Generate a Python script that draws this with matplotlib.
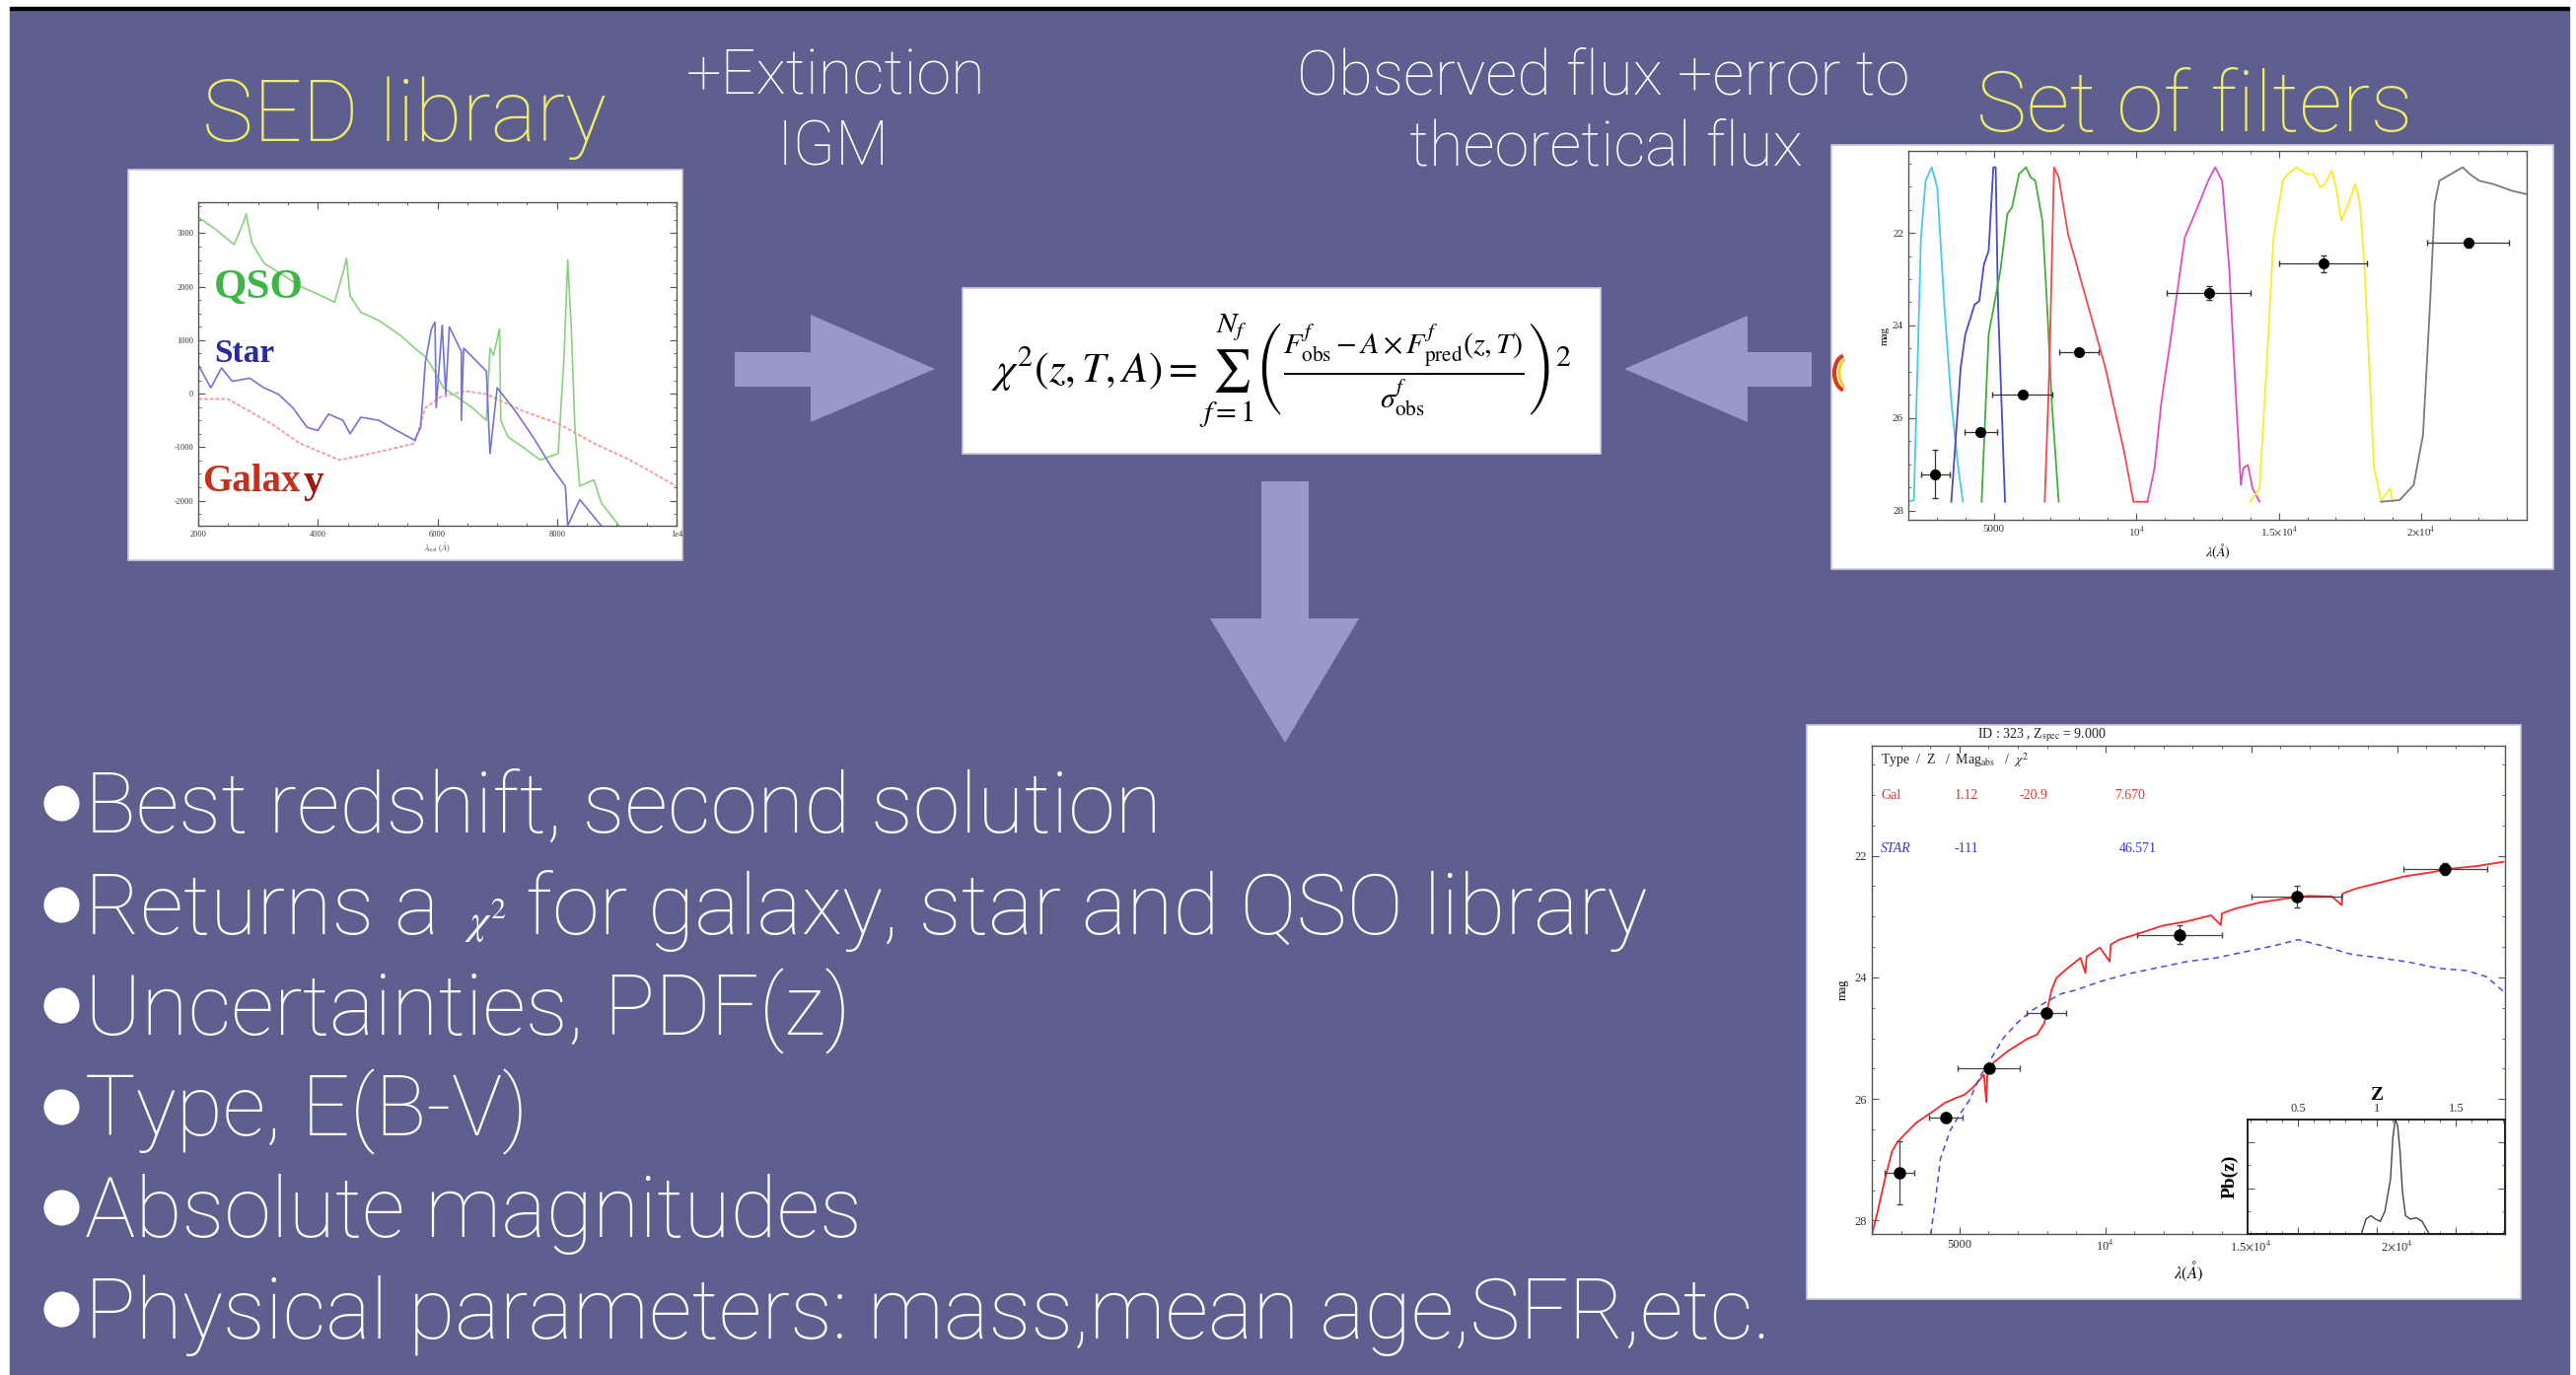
from __future__ import annotations

import matplotlib

matplotlib.use("Agg")
import matplotlib.pyplot as plt
from matplotlib.patches import Arc, Polygon, Rectangle
from matplotlib.ticker import FixedLocator, MultipleLocator, NullFormatter

W, H, DPI = 2612, 1394, 100

BG = "#5e5f8e"
ARROW = "#9898c9"
YELLOW = "#f0ec6c"
SANS = ["Roboto", "DejaVu Sans"]

plt.rcParams["font.family"] = "serif"
plt.rcParams["font.serif"] = ["Liberation Serif", "DejaVu Serif"]
plt.rcParams["mathtext.fontset"] = "stix"

# ---- SED library: template spectra (arbitrary flux units) ----
qso_x = [0, 0.135, 0.30, 0.375, 0.40, 0.45, 0.55, 0.70, 0.85, 1.00,
         1.14, 1.21, 1.24, 1.27, 1.36, 1.51, 1.69, 1.81, 1.90, 1.96,
         2.05, 2.17, 2.29, 2.41, 2.44, 2.47, 2.52, 2.53, 2.59, 2.71,
         2.86, 3.01, 3.06, 3.09, 3.12, 3.15, 3.19, 3.31, 3.37, 3.52]
qso_y = [3.30, 3.09, 2.79, 3.18, 3.36, 2.81, 2.44, 2.23, 2.01, 1.86,
         1.71, 2.26, 2.53, 1.83, 1.52, 1.37, 1.09, 0.85, 0.69, 0.48,
         0.11, -0.07, -0.26, -0.50, 0.85, 0.72, 1.21, -0.50, -0.81, -0.99,
         -1.24, -1.12, 0.72, 2.50, 1.21, -0.63, -1.73, -1.61, -2.04, -2.47]
star_x = [0, 0.105, 0.195, 0.285, 0.43, 0.55, 0.67, 0.79, 0.91, 1.00,
          1.09, 1.21, 1.27, 1.36, 1.51, 1.66, 1.81, 1.86, 1.90, 1.95,
          1.98, 1.99, 2.04, 2.07, 2.10, 2.20, 2.20, 2.22, 2.41, 2.44,
          2.50, 2.65, 2.80, 2.95, 3.07, 3.09, 3.19, 3.37]
star_y = [0.54, 0.11, 0.48, 0.23, 0.29, 0.11, -0.01, -0.26, -0.63, -0.69,
          -0.38, -0.50, -0.75, -0.44, -0.50, -0.69, -0.87, -0.63, 0.60, 1.21,
          1.34, -0.26, 1.28, -0.01, 1.25, 0.79, -0.50, 0.85, 0.42, -1.12,
          0.11, -0.32, -0.81, -1.36, -1.73, -2.47, -1.98, -2.47]
galaxy_x = [0, 0.25, 0.375, 0.61, 0.85, 1.18, 1.51, 1.81, 1.90, 2.02,
            2.23, 2.41, 2.71, 3.01, 3.31, 3.61, 4.0]
galaxy_y = [-0.10, -0.10, -0.26, -0.56, -0.93, -1.24, -1.09, -0.93, -0.26, -0.07,
            0.05, -0.01, -0.32, -0.56, -0.93, -1.24, -1.73]
sed_yticks = [-2, -1, 0, 1, 2, 3]
sed_ylabels = ["-2000", "-1000", "0", "1000", "2000", "3000"]
sed_xticks = [0, 1, 2, 3, 4]
sed_xlabels = ["2000", "4000", "6000", "8000", "1e4"]

# ---- filter transmission curves (wavelength in A, normalised throughput) ----
u_lam = [2000, 2197, 2443, 2607, 2820, 3016, 3262, 3508, 3754, 3918]
u_tr = [0, 0.005, 0.79, 0.96, 1.0, 0.94, 0.59, 0.30, 0.10, 0]
b_lam = [3508, 3836, 4000, 4328, 4491, 4655, 4819, 4983, 5065, 5147, 5393]
b_tr = [0, 0.40, 0.50, 0.59, 0.60, 0.71, 0.75, 1.0, 1.0, 0.59, 0]
v_lam = [4573, 4819, 5229, 5475, 5639, 5885, 6130, 6294, 6458, 6704, 6868, 7032, 7278]
v_tr = [0, 0.50, 0.69, 0.86, 0.88, 0.98, 1.0, 0.97, 0.96, 0.84, 0.59, 0.30, 0]
r_lam = [6786, 6950, 7114, 7278, 7606, 8262, 8917, 9573, 9901, 10400]
r_tr = [0, 0.40, 1.0, 0.97, 0.80, 0.60, 0.40, 0.15, 0, 0]
j_lam = [10392, 10637, 10883, 11211, 11703, 12195, 12523, 12768, 13014, 13260,
         13506, 13670, 13752, 13916, 14080, 14325]
j_tr = [0, 0.10, 0.30, 0.49, 0.79, 0.89, 0.96, 1.0, 0.96, 0.70,
        0.30, 0.05, 0.10, 0.11, 0.04, 0]
h_lam = [14000, 14325, 14571, 14817, 15145, 15309, 15637, 15965, 16211, 16457,
         16621, 16866, 17030, 17194, 17440, 17686, 17850, 18014, 18178, 18342,
         18587, 18915, 18997]
h_tr = [0, 0.04, 0.40, 0.79, 0.96, 0.98, 1.0, 0.98, 0.98, 0.94,
        0.95, 0.99, 0.93, 0.84, 0.89, 0.95, 0.89, 0.69, 0.40, 0.10,
        0.005, 0.04, 0]
k_lam = [18587, 19242, 19734, 20062, 20308, 20472, 20636, 21046, 21455, 21701,
         22029, 22521, 23177, 23669]
k_tr = [0, 0.005, 0.05, 0.20, 0.59, 0.89, 0.96, 0.98, 1.0, 0.98,
        0.96, 0.95, 0.93, 0.92]

# ---- observed photometry ----
obs_lam = [2940, 4530, 6010, 7990, 12540, 16560, 21650]
obs_mag = [27.21, 26.31, 25.49, 24.58, 23.30, 22.67, 22.22]
obs_lam_err = [500, 570, 1060, 680, 1460, 1540, 1430]
obs_mag_err = [0.52, 0.08, 0.06, 0.06, 0.15, 0.18, 0.10]

# ---- best-fit templates ----
gal_lam = [2000, 2199, 2447, 2696, 2861, 3110, 3524, 4020, 4517, 4848,
           5180, 5511, 5842, 5925, 5960, 6173, 6670, 7332, 7664, 7912,
           8160, 8326, 8657, 9154, 9320, 9360, 9816, 10150, 10190, 10479,
           11141, 11969, 12797, 13625, 13960, 14000, 14453, 15281, 16109, 16937,
           17765, 18100, 18140, 18593, 19421, 20249, 21077, 21905, 22733, 23643]
gal_mag = [28.23, 27.85, 27.32, 26.86, 26.72, 26.59, 26.39, 26.23, 26.06, 25.99,
           25.93, 25.79, 25.60, 26.05, 25.58, 25.40, 25.21, 25.01, 24.94, 24.75,
           24.21, 24.01, 23.87, 23.68, 23.93, 23.66, 23.51, 23.74, 23.46, 23.38,
           23.28, 23.15, 23.08, 22.98, 23.14, 22.95, 22.87, 22.77, 22.71, 22.66,
           22.67, 22.81, 22.62, 22.54, 22.44, 22.34, 22.28, 22.21, 22.17, 22.10]
star_lam = [4020, 4186, 4352, 4683, 5014, 5345, 5676, 6008, 6504, 7001,
            7498, 7995, 8492, 8988, 9816, 10810, 11804, 12797, 13791, 14785,
            15778, 16606, 17434, 18427, 19421, 20415, 21408, 22402, 23065, 23643]
star_mag = [28.23, 27.64, 26.98, 26.52, 26.25, 26.02, 25.66, 25.40, 25.00, 24.74,
            24.54, 24.40, 24.27, 24.21, 24.07, 23.94, 23.84, 23.74, 23.68, 23.58,
            23.48, 23.38, 23.48, 23.62, 23.68, 23.75, 23.85, 23.89, 23.99, 24.23]

# ---- redshift probability ----
pdf_z = [0.18, 0.90, 0.93, 0.96, 0.99, 1.02, 1.05, 1.085, 1.10, 1.115,
         1.13, 1.145, 1.16, 1.18, 1.21, 1.25, 1.285, 1.33, 1.81]
pdf_p = [0, 0, 0.13, 0.16, 0.13, 0.11, 0.20, 0.48, 0.84, 1.0,
         0.95, 0.73, 0.38, 0.16, 0.13, 0.14, 0.11, 0, 0]

lam_ticks = [5000, 10000, 15000, 20000]
lam_labels = ["5000", r"10$^4$", r"1.5$\times$10$^4$", r"2$\times$10$^4$"]
mag_ticks = [22, 24, 26, 28]

bullets = [
    "Best redshift, second solution",
    None,
    "Uncertainties, PDF(z)",
    "Type, E(B-V)",
    "Absolute magnitudes",
    "Physical parameters: mass,mean age,SFR,etc.",
]


def px_rect(x0, y0, x1, y1):
    """Figure-fraction rect from pixel corners (y measured from the top)."""
    return [x0 / W, 1 - y1 / H, (x1 - x0) / W, (y1 - y0) / H]


def style_axes(ax, labelsize=8):
    ax.set_facecolor("none")
    ax.tick_params(which="both", direction="in", top=True, right=True,
                   colors="#555555", labelcolor="#333333", labelsize=labelsize)
    ax.tick_params(which="major", length=5, width=0.8)
    ax.tick_params(which="minor", length=2.5, width=0.6)
    for sp in ax.spines.values():
        sp.set_color("#555555")
        sp.set_linewidth(1.0)


def lam_axes(ax):
    ax.set_xlim(2000, 23700)
    ax.xaxis.set_major_locator(FixedLocator(lam_ticks))
    ax.set_xticklabels(lam_labels)
    ax.xaxis.set_minor_locator(MultipleLocator(1000))
    ax.yaxis.set_major_locator(FixedLocator(mag_ticks))
    ax.yaxis.set_minor_locator(MultipleLocator(0.5))


def draw_slide(bg):
    bg.add_patch(Rectangle((10, 10), W - 17, H - 10, color=BG, zorder=0))
    bg.add_patch(Rectangle((10, 7), W - 17, 3, color="black", zorder=1))

    for x0, y0, x1, y1 in [(130, 172, 692, 568), (976, 292, 1623, 460),
                           (1857, 147, 2589, 577), (1832, 735, 2556, 1317)]:
        bg.add_patch(Rectangle((x0, y0), x1 - x0, y1 - y0, facecolor="white",
                               edgecolor="#c9c9d6", lw=1.2, zorder=2))

    arrows = [
        [(745, 357), (822, 357), (822, 319), (948, 374), (822, 428), (822, 392), (745, 392)],
        [(1837, 357), (1772, 357), (1772, 320), (1647, 374), (1772, 428), (1772, 392), (1837, 392)],
        [(1279, 488), (1327, 488), (1327, 627), (1378, 627), (1303, 753), (1227, 627), (1279, 627)],
    ]
    for pts in arrows:
        bg.add_patch(Polygon(pts, closed=True, color=ARROW, lw=0, zorder=3))

    bg.add_patch(Arc((1872, 378), 24, 36, theta1=100, theta2=260, color="#d83a1a", lw=3, zorder=4))
    bg.add_patch(Arc((1874, 378), 18, 30, theta1=105, theta2=255, color="#f0d020", lw=2, zorder=4))

    head = dict(family=SANS, weight="light", va="baseline", ha="center", zorder=5)
    bg.text(410, 143, "SED library", fontsize=63, color=YELLOW, **head)
    bg.text(2225, 133, "Set of filters", fontsize=62, color=YELLOW, **head)
    bg.text(848, 95, "+Extinction", fontsize=45.5, color="white", **head)
    bg.text(845, 167, "IGM", fontsize=45.5, color="white", **head)
    bg.text(1626, 95, "Observed flux +error to", fontsize=45.5, color="white", **head)
    bg.text(1628, 167, "theoretical flux", fontsize=45.5, color="white", **head)

    formula = (r"$\chi^2(z,T,A) = \sum_{f=1}^{N_f}\left(\frac{F^f_{\rm obs} - A \times "
               r"F^f_{\rm pred}(z,T)}{\sigma^f_{\rm obs}}\right)^2$")
    bg.text(1300, 376, formula, fontsize=31, color="black", ha="center", va="center", zorder=5)


def draw_bullets(fig, bg):
    renderer = fig.canvas.get_renderer()
    body = dict(family=SANS, weight="light", va="baseline", color="white", fontsize=62, zorder=5)
    base = [844 + 102.6 * i for i in range(len(bullets))]
    bg.plot([62] * len(base), [b - 30 for b in base], "o", ms=26, color="white",
            mec="none", zorder=5)
    for y, line in zip(base, bullets):
        if line is not None:
            bg.text(86, y, line, **body)
            continue
        t = bg.text(86, y, "Returns a", **body)
        x = t.get_window_extent(renderer).x1 + 26
        chi = bg.text(x, y, r"$\chi^2$", fontsize=31, color="white", va="baseline", zorder=5)
        x = chi.get_window_extent(renderer).x1 + 18
        bg.text(x, y, "for galaxy, star and QSO library", **body)


def draw_sed(fig):
    ax = fig.add_axes(px_rect(201, 205, 686, 533))
    style_axes(ax, labelsize=6)
    ax.plot(galaxy_x, galaxy_y, color="#f4a0a0", lw=1.4, ls=(0, (2, 1)))
    ax.plot(qso_x, qso_y, color="#8ad07e", lw=1.2)
    ax.plot(star_x, star_y, color="#7474d4", lw=1.2)
    ax.set_xlim(0, 4)
    ax.set_ylim(-2.47, 3.58)
    ax.xaxis.set_major_locator(FixedLocator(sed_xticks))
    ax.set_xticklabels(sed_xlabels)
    ax.xaxis.set_minor_locator(MultipleLocator(0.25))
    ax.yaxis.set_major_locator(FixedLocator(sed_yticks))
    ax.set_yticklabels(sed_ylabels)
    ax.yaxis.set_minor_locator(MultipleLocator(0.25))
    ax.set_xlabel(r"$\lambda_{\rm rest}$ ($\AA$)", fontsize=6, color="#555555", labelpad=1)
    lab = dict(weight="bold", va="center", ha="left")
    ax.text(0.13, 1.98, "QSO", fontsize=31, color="#3fb548", **lab)
    ax.text(0.13, 0.75, "Star", fontsize=24, color="#2b2b96", **lab)
    ax.text(0.03, -1.64, "Galax", fontsize=28, color="#c4301f", **lab)
    ax.text(0.88, -1.66, "y", fontsize=30, color="#9c1a10", **lab)


def draw_filters(fig):
    ax = fig.add_axes(px_rect(1935, 153, 2562, 527))
    style_axes(ax, labelsize=8)
    tr = ax.twinx()
    tr.set_ylim(-0.054, 1.049)
    tr.axis("off")
    ax.set_zorder(tr.get_zorder() + 1)
    ax.patch.set_visible(False)
    curves = [(u_lam, u_tr, "#4cc8e4"), (b_lam, b_tr, "#4b4bc2"), (v_lam, v_tr, "#3fae3f"),
              (r_lam, r_tr, "#f24a4a"), (j_lam, j_tr, "#e04cc4"), (h_lam, h_tr, "#f2ee2a"),
              (k_lam, k_tr, "#7a7a7a")]
    for lam, t, c in curves:
        tr.plot(lam, t, color=c, lw=1.3)
    ax.errorbar(obs_lam, obs_mag, xerr=obs_lam_err, yerr=obs_mag_err, fmt="o", ms=7,
                color="black", ecolor="#333333", elinewidth=0.9, capsize=2.5)
    lam_axes(ax)
    ax.set_ylim(28.2, 20.23)
    ax.set_xlabel(r"$\lambda(\AA)$", fontsize=10, labelpad=2)
    ax.set_ylabel("mag", fontsize=8, labelpad=2)


def draw_fit(fig):
    ax = fig.add_axes(px_rect(1898, 756, 2540, 1251))
    style_axes(ax, labelsize=9)
    ax.plot(gal_lam, gal_mag, color="#f22a2a", lw=1.3)
    ax.plot(star_lam, star_mag, color="#4a4ae0", lw=1.1, ls=(0, (4, 3)))
    ax.errorbar(obs_lam, obs_mag, xerr=obs_lam_err, yerr=obs_mag_err, fmt="o", ms=8,
                color="black", ecolor="#444444", elinewidth=0.9, capsize=2.5, zorder=5)
    lam_axes(ax)
    ax.set_ylim(28.22, 20.19)
    ax.set_xlabel(r"$\lambda(\AA)$", fontsize=12, labelpad=4)
    ax.set_ylabel("mag", fontsize=9, labelpad=4)

    tf = dict(transform=fig.transFigure, fontsize=10, va="center")

    def fx(x):
        return x / W

    def fy(y):
        return 1 - y / H

    fig.text(fx(2070), fy(745), r"ID : 323 , Z$_{\rm spec}$ = 9.000", ha="center", color="#222222", **tf)
    fig.text(fx(1907), fy(771), r"Type  /  Z   /  Mag$_{\rm abs}$   /  $\chi^2$", color="#222222", **tf)
    for x, s in [(1907, "Gal"), (1982, "1.12"), (2048, "-20.9"), (2144, "7.670")]:
        fig.text(fx(x), fy(807), s, color="#f03030", **tf)
    for x, s in [(1907, "STAR"), (1981, "-111"), (2149, "46.571")]:
        fig.text(fx(x), fy(860), s, color="#3a3ad0", style="italic" if s == "STAR" else "normal", **tf)

    ins = fig.add_axes(px_rect(2279, 1135, 2540, 1251))
    style_axes(ins, labelsize=9)
    ins.set_facecolor("white")
    ins.plot(pdf_z, pdf_p, color="#444444", lw=1.0)
    ins.set_xlim(0.18, 1.81)
    ins.set_ylim(0, 1.0)
    ins.xaxis.tick_top()
    ins.tick_params(which="both", bottom=True, labelbottom=False, labeltop=True)
    ins.set_xticks([0.5, 1.0, 1.5])
    ins.set_xticklabels(["0.5", "1", "1.5"])
    ins.xaxis.set_minor_locator(MultipleLocator(0.1))
    ins.yaxis.set_major_locator(MultipleLocator(0.4))
    ins.yaxis.set_minor_locator(MultipleLocator(0.2))
    ins.yaxis.set_major_formatter(NullFormatter())
    ins.xaxis.set_label_position("top")
    ins.set_xlabel("Z", fontsize=14, weight="bold", labelpad=2)
    ins.set_ylabel("Pb(z)", fontsize=14, weight="bold", labelpad=3)
    for sp in ins.spines.values():
        sp.set_color("#222222")
        sp.set_linewidth(1.4)


def main() -> None:
    fig = plt.figure(figsize=(W / DPI, H / DPI), dpi=DPI, facecolor="white")
    bg = fig.add_axes([0, 0, 1, 1])
    bg.set_xlim(0, W)
    bg.set_ylim(H, 0)
    bg.axis("off")

    draw_slide(bg)
    draw_bullets(fig, bg)
    draw_sed(fig)
    draw_filters(fig)
    draw_fit(fig)

    fig.savefig("out.png", dpi=DPI, facecolor="white")
    plt.close(fig)


if __name__ == "__main__":
    main()
